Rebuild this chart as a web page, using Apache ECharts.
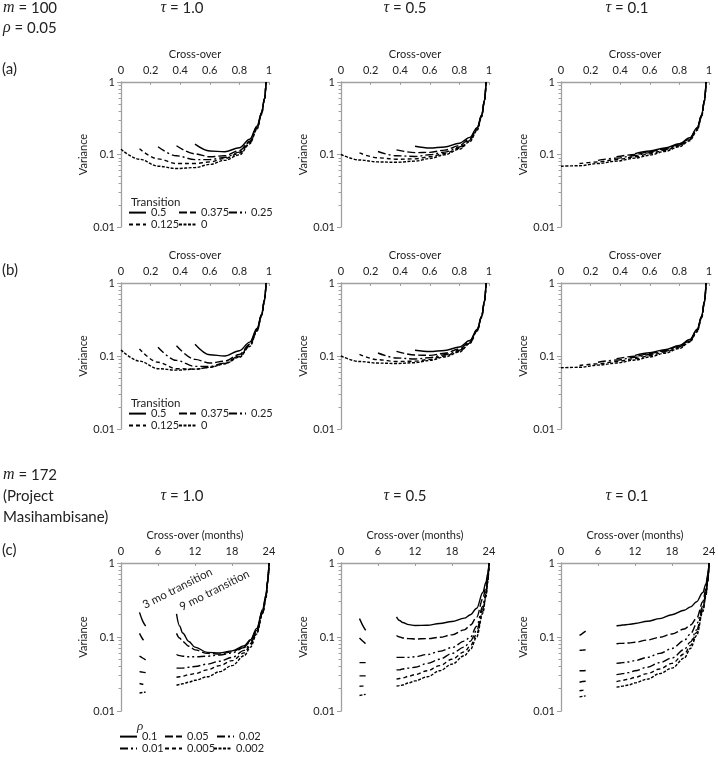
<!DOCTYPE html>
<html><head><meta charset="utf-8">
<script src="https://cdn.jsdelivr.net/npm/echarts@6.0.0/dist/echarts.min.js"></script>
<style>html,body{margin:0;padding:0;background:#fff}#c{width:718px;height:762px}</style>
</head><body><div id="c"></div>
<script>
// ---------- data ----------
const transitionNames = ['0.5', '0.375', '0.25', '0.125', '0'];
const rhoNames = ['0.1', '0.05', '0.02', '0.01', '0.005', '0.002'];
const tauTitles = ['1.0', '0.5', '0.1'];
const xTicksAB = [0, 0.2, 0.4, 0.6, 0.8, 1];
const xTicksC = [0, 6, 12, 18, 24];

// cross-over (fraction) for rows (a) and (b)
const xAB = [0, 0.125, 0.25, 0.375, 0.5, 0.6, 0.7, 0.8, 0.87, 0.92, 0.95, 0.97, 0.98];
// cross-over (months) for row (c)
const x9mo = [9, 9.5, 10, 11, 12, 14, 16, 18, 20, 21, 22, 23, 23.5, 23.8, 24];
const x3mo = [3, 3.5, 4];

// row (a), rows follow transitionNames order
const varA_tau10 = [
  [null, null, null, null, 0.139, 0.112, 0.109, 0.124, 0.162, 0.248, 0.38, 0.6, 1],
  [null, null, null, 0.132, 0.102, 0.093, 0.096, 0.113, 0.152, 0.24, 0.375, 0.595, 1],
  [null, null, 0.128, 0.096, 0.085, 0.085, 0.091, 0.108, 0.148, 0.235, 0.37, 0.59, 1],
  [null, 0.12, 0.087, 0.075, 0.075, 0.079, 0.088, 0.104, 0.145, 0.23, 0.365, 0.585, 1],
  [0.118, 0.086, 0.069, 0.064, 0.066, 0.073, 0.083, 0.099, 0.14, 0.225, 0.36, 0.58, 1]
];
const varA_tau05 = [
  [null, null, null, null, 0.13, 0.123, 0.127, 0.143, 0.172, 0.235, 0.35, 0.57, 1],
  [null, null, null, 0.116, 0.106, 0.107, 0.115, 0.133, 0.165, 0.23, 0.345, 0.565, 1],
  [null, null, 0.11, 0.096, 0.094, 0.099, 0.108, 0.127, 0.16, 0.225, 0.34, 0.56, 1],
  [null, 0.105, 0.09, 0.086, 0.087, 0.093, 0.103, 0.122, 0.155, 0.22, 0.335, 0.555, 1],
  [0.1, 0.084, 0.079, 0.078, 0.081, 0.088, 0.099, 0.118, 0.15, 0.215, 0.33, 0.55, 1]
];
const varA_tau01 = [
  [null, null, null, null, 0.103, 0.112, 0.123, 0.141, 0.17, 0.235, 0.35, 0.57, 1],
  [null, null, null, 0.093, 0.1, 0.109, 0.12, 0.138, 0.166, 0.23, 0.345, 0.565, 1],
  [null, null, 0.083, 0.089, 0.097, 0.106, 0.117, 0.135, 0.163, 0.226, 0.34, 0.56, 1],
  [null, 0.075, 0.079, 0.085, 0.093, 0.102, 0.114, 0.132, 0.16, 0.222, 0.335, 0.555, 1],
  [0.069, 0.07, 0.075, 0.081, 0.089, 0.098, 0.11, 0.128, 0.155, 0.215, 0.33, 0.55, 1]
];
// row (b)
const varB_tau10 = [
  [null, null, null, null, 0.145, 0.104, 0.1, 0.118, 0.155, 0.24, 0.375, 0.595, 1],
  [null, null, null, 0.138, 0.09, 0.08, 0.085, 0.105, 0.145, 0.232, 0.37, 0.59, 1],
  [null, null, 0.132, 0.087, 0.072, 0.072, 0.08, 0.1, 0.14, 0.228, 0.365, 0.585, 1],
  [null, 0.125, 0.082, 0.067, 0.066, 0.07, 0.079, 0.098, 0.138, 0.225, 0.36, 0.58, 1],
  [0.121, 0.085, 0.067, 0.064, 0.066, 0.07, 0.078, 0.096, 0.135, 0.22, 0.355, 0.575, 1]
];
const varB_tau05 = [
  [null, null, null, null, 0.12, 0.115, 0.119, 0.133, 0.163, 0.232, 0.35, 0.57, 1],
  [null, null, null, 0.116, 0.103, 0.102, 0.109, 0.125, 0.157, 0.228, 0.348, 0.567, 1],
  [null, null, 0.11, 0.094, 0.091, 0.095, 0.104, 0.12, 0.153, 0.225, 0.345, 0.565, 1],
  [null, 0.105, 0.089, 0.084, 0.085, 0.09, 0.1, 0.116, 0.15, 0.222, 0.342, 0.562, 1],
  [0.1, 0.084, 0.08, 0.079, 0.081, 0.087, 0.097, 0.113, 0.148, 0.22, 0.34, 0.56, 1]
];
const varB_tau01 = [
  [null, null, null, null, 0.102, 0.111, 0.122, 0.14, 0.168, 0.232, 0.35, 0.57, 1],
  [null, null, null, 0.092, 0.099, 0.108, 0.119, 0.137, 0.165, 0.228, 0.345, 0.565, 1],
  [null, null, 0.082, 0.088, 0.096, 0.105, 0.116, 0.134, 0.162, 0.225, 0.34, 0.56, 1],
  [null, 0.074, 0.078, 0.084, 0.092, 0.101, 0.113, 0.131, 0.159, 0.22, 0.335, 0.555, 1],
  [0.069, 0.07, 0.075, 0.08, 0.088, 0.097, 0.109, 0.127, 0.155, 0.215, 0.33, 0.55, 1]
];
// row (c), 9 month transition, rows follow rhoNames order
const varC9_tau10 = [
  [0.205, 0.141, 0.113, 0.087, 0.073, 0.062, 0.061, 0.065, 0.076, 0.092, 0.13, 0.24, 0.37, 0.6, 1],
  [0.112, 0.097, 0.087, 0.075, 0.067, 0.06, 0.059, 0.063, 0.074, 0.09, 0.125, 0.23, 0.36, 0.58, 1],
  [0.058, 0.056, 0.055, 0.054, 0.054, 0.055, 0.057, 0.061, 0.072, 0.088, 0.123, 0.225, 0.35, 0.57, 1],
  [0.038, 0.038, 0.038, 0.039, 0.04, 0.043, 0.047, 0.053, 0.066, 0.082, 0.118, 0.22, 0.345, 0.565, 1],
  [0.0286, 0.029, 0.0295, 0.031, 0.032, 0.036, 0.041, 0.048, 0.061, 0.078, 0.114, 0.215, 0.34, 0.56, 1],
  [0.0223, 0.0228, 0.0233, 0.0245, 0.026, 0.029, 0.034, 0.041, 0.056, 0.073, 0.11, 0.21, 0.33, 0.55, 1]
];
const varC9_tau05 = [
  [0.187, 0.167, 0.157, 0.147, 0.143, 0.144, 0.152, 0.162, 0.18, 0.2, 0.245, 0.4, 0.55, 0.72, 1],
  [0.105, 0.1, 0.097, 0.095, 0.094, 0.095, 0.099, 0.107, 0.125, 0.145, 0.185, 0.33, 0.47, 0.66, 1],
  [0.053, 0.053, 0.053, 0.053, 0.054, 0.058, 0.064, 0.072, 0.088, 0.1, 0.14, 0.26, 0.4, 0.6, 1],
  [0.036, 0.036, 0.037, 0.038, 0.039, 0.044, 0.05, 0.06, 0.073, 0.088, 0.122, 0.24, 0.38, 0.58, 1],
  [0.027, 0.0275, 0.028, 0.0295, 0.031, 0.035, 0.041, 0.05, 0.063, 0.076, 0.11, 0.22, 0.36, 0.56, 1],
  [0.0217, 0.022, 0.0225, 0.024, 0.0255, 0.029, 0.035, 0.043, 0.056, 0.068, 0.1, 0.21, 0.35, 0.55, 1]
];
const varC9_tau01 = [
  [0.142, 0.143, 0.145, 0.148, 0.152, 0.163, 0.177, 0.2, 0.23, 0.255, 0.3, 0.4, 0.52, 0.7, 1],
  [0.081, 0.082, 0.082, 0.083, 0.085, 0.091, 0.099, 0.11, 0.128, 0.145, 0.18, 0.3, 0.45, 0.65, 1],
  [0.044, 0.0445, 0.045, 0.046, 0.048, 0.053, 0.06, 0.07, 0.09, 0.11, 0.15, 0.26, 0.4, 0.6, 1],
  [0.031, 0.0315, 0.032, 0.033, 0.035, 0.039, 0.045, 0.052, 0.068, 0.086, 0.125, 0.24, 0.38, 0.58, 1],
  [0.025, 0.0255, 0.026, 0.027, 0.0285, 0.032, 0.037, 0.044, 0.059, 0.077, 0.115, 0.23, 0.37, 0.57, 1],
  [0.021, 0.0213, 0.0217, 0.0225, 0.024, 0.027, 0.032, 0.038, 0.052, 0.07, 0.105, 0.22, 0.36, 0.56, 1]
];
// row (c), 3 month transition
const varC3_tau10 = [
  [0.215, 0.165, 0.14],
  [0.112, 0.094, 0.084],
  [0.055, 0.052, 0.049],
  [0.034, 0.0335, 0.033],
  [0.0235, 0.023, 0.0228],
  [0.0175, 0.0178, 0.018]
];
const varC3_tau05 = [
  [0.177, 0.145, 0.123],
  [0.097, 0.088, 0.081],
  [0.045, 0.045, 0.045],
  [0.0298, 0.0298, 0.0298],
  [0.0216, 0.0217, 0.0218],
  [0.0162, 0.0165, 0.0168]
];
const varC3_tau01 = [
  [0.105, 0.112, 0.12],
  [0.066, 0.0665, 0.067],
  [0.035, 0.035, 0.0352],
  [0.0245, 0.025, 0.0252],
  [0.0188, 0.019, 0.0192],
  [0.0155, 0.0158, 0.016]
];

// ---------- layout / style ----------
const FONT = 'Lato';
const AXIS_GRAY = '#a0a0a0';
const TEXT = '#222';
const colLeft = [121, 341, 561];
const gridW = 148;
const rowTop = [82, 283, 563];
const rowH = [145, 146, 148];
const dashAB = ['solid', [8, 3], [8, 3, 2, 3], [4, 3], [3, 1.5]];
const dashC = ['solid', [8, 3], [8, 3, 2, 3, 2, 3], [8, 3, 2, 3], [4, 3], [3, 1.5]];

const panels = [
  { r: 0, c: 0, ys: varA_tau10 }, { r: 0, c: 1, ys: varA_tau05 }, { r: 0, c: 2, ys: varA_tau01 },
  { r: 1, c: 0, ys: varB_tau10 }, { r: 1, c: 1, ys: varB_tau05 }, { r: 1, c: 2, ys: varB_tau01 },
  { r: 2, c: 0, ys: varC9_tau10, ys3: varC3_tau10 },
  { r: 2, c: 1, ys: varC9_tau05, ys3: varC3_tau05 },
  { r: 2, c: 2, ys: varC9_tau01, ys3: varC3_tau01 }
];

const grid = [], xAxis = [], yAxis = [], series = [];
panels.forEach((p, i) => {
  const isC = p.r === 2;
  grid.push({ left: colLeft[p.c], top: rowTop[p.r], width: gridW, height: rowH[p.r], outerBoundsMode: 'none' });
  xAxis.push({
    gridIndex: i, type: 'value', position: 'top',
    min: 0, max: isC ? 24 : 1, interval: isC ? 6 : 0.2,
    name: isC ? 'Cross-over (months)' : 'Cross-over', nameLocation: 'middle', nameGap: 22,
    nameTextStyle: { fontFamily: FONT, fontSize: 11, color: TEXT },
    axisLine: { show: true, lineStyle: { color: AXIS_GRAY, width: 1.3 } },
    axisTick: { show: true, inside: true, length: 3, lineStyle: { color: AXIS_GRAY } },
    axisLabel: { fontFamily: FONT, fontSize: 11, color: TEXT, margin: 6,
      formatter: v => String(Math.round(v * 1000) / 1000) },
    splitLine: { show: false }
  });
  yAxis.push({
    gridIndex: i, type: 'log', logBase: 10, min: 0.01, max: 1,
    name: 'Variance', nameLocation: 'middle', nameGap: 27,
    nameTextStyle: { fontFamily: FONT, fontSize: 11, color: TEXT },
    axisLine: { show: true, lineStyle: { color: AXIS_GRAY, width: 1.3 } },
    axisTick: { show: true, length: 4, lineStyle: { color: AXIS_GRAY } },
    minorTick: { show: true, splitNumber: 9, length: 2.5, lineStyle: { color: AXIS_GRAY } },
    axisLabel: { fontFamily: FONT, fontSize: 11, color: TEXT, margin: 6 },
    splitLine: { show: false }, minorSplitLine: { show: false }
  });
  const names = isC ? rhoNames : transitionNames;
  const dashes = isC ? dashC : dashAB;
  const xs = isC ? x9mo : xAB;
  p.ys.forEach((arr, k) => {
    series.push({
      type: 'line', name: names[k], xAxisIndex: i, yAxisIndex: i,
      data: xs.map((x, j) => [x, arr[j]]).filter(d => d[1] !== null),
      symbol: 'none', smooth: 0.35, smoothMonotone: 'x', silent: true,
      lineStyle: { color: '#000', width: 1.4, type: dashes[k] },
      itemStyle: { color: '#000' }
    });
  });
  if (p.ys3) {
    p.ys3.forEach((arr, k) => {
      series.push({
        type: 'line', name: names[k], xAxisIndex: i, yAxisIndex: i,
        data: x3mo.map((x, j) => [x, arr[j]]),
        symbol: 'none', smooth: 0.35, silent: true,
        lineStyle: { color: '#000', width: 1.4, type: dashes[k] },
        itemStyle: { color: '#000' }
      });
    });
  }
});

// legends (one item each, placed in columns like the reference)
const legend = [];
function addLegend(name, left, cy) {
  legend.push({
    data: [name], left: left, top: cy - 7, padding: 0, itemGap: 0,
    itemWidth: 17, itemHeight: 14, selectedMode: false,
    itemStyle: { opacity: 0, color: 'rgba(0,0,0,0)', borderWidth: 0 },
    textStyle: { fontFamily: FONT, fontSize: 11, color: TEXT }
  });
}
[0, 201].forEach(off => {
  addLegend('0.5', 128, 214 + off);
  addLegend('0.375', 178, 214 + off);
  addLegend('0.25', 228, 214 + off);
  addLegend('0.125', 128, 226 + off);
  addLegend('0', 178, 226 + off);
});
addLegend('0.1', 119, 738);
addLegend('0.05', 164, 738);
addLegend('0.02', 216, 738);
addLegend('0.01', 119, 750);
addLegend('0.005', 164, 750);
addLegend('0.002', 213, 750);

// free texts
const rich = {
  i: { fontFamily: 'Liberation Serif', fontStyle: 'italic', fontSize: 16, color: TEXT },
  n: { fontFamily: FONT, fontSize: 15, color: TEXT }
};
function txt(x, y, text, opts) {
  return Object.assign({
    type: 'text', x: x, y: y, silent: true,
    style: Object.assign({ text: text, rich: rich, fontFamily: FONT, fontSize: 15, fill: TEXT,
      verticalAlign: 'middle', align: 'left' }, (opts && opts.style) || {})
  }, (opts && opts.el) || {});
}
const tauX = [182, 405, 627];
const graphic = [
  txt(3, 8, '{i|m}{n| = 100}'),
  txt(3, 28, '{i|ρ}{n| = 0.05}'),
  txt(2, 69, '(a)'),
  txt(2, 270, '(b)'),
  txt(2, 550, '(c)'),
  txt(3, 475, '{i|m}{n| = 172}'),
  txt(3, 496, '(Project'),
  txt(3, 517, 'Masihambisane)'),
  txt(131, 202, 'Transition', { style: { fontSize: 11.5 } }),
  txt(131, 403, 'Transition', { style: { fontSize: 11.5 } }),
  txt(137, 727, '{i|ρ}', { style: { rich: { i: { fontFamily: 'Liberation Serif', fontStyle: 'italic', fontSize: 13, color: TEXT } } } }),
  txt(146, 611, '3 mo transition', { style: { fontSize: 11.5, verticalAlign: 'bottom' }, el: { rotation: 0.47 } }),
  txt(183, 613, '9 mo transition', { style: { fontSize: 11.5, verticalAlign: 'bottom' }, el: { rotation: 0.47 } })
];
tauTitles.forEach((t, k) => {
  graphic.push(txt(tauX[k], 8, '{i|τ}{n| = ' + t + '}', { style: { align: 'center' } }));
  graphic.push(txt(tauX[k], 496, '{i|τ}{n| = ' + t + '}', { style: { align: 'center' } }));
});

const chart = echarts.init(document.getElementById('c'), null, { renderer: 'canvas' });
chart.setOption({
  backgroundColor: '#fff',
  animation: false,
  grid, xAxis, yAxis, series, legend, graphic
});
</script></body></html>
